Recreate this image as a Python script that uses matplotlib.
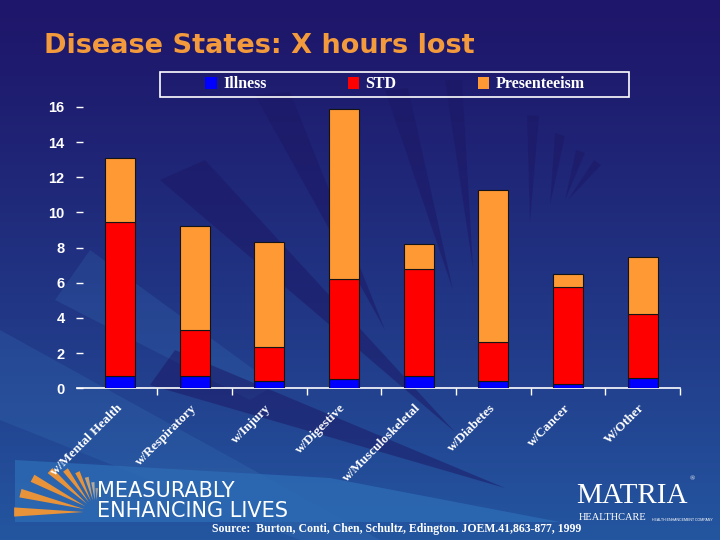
import numpy as np
import matplotlib
matplotlib.use("Agg")
import matplotlib.pyplot as plt
from matplotlib.patches import Polygon, Rectangle

# data (hours lost)
categories = ["w/Mental Health", "w/Respiratory", "w/Injury", "w/Digestive",
              "w/Musculoskeletal", "w/Diabetes", "w/Cancer", "W/Other"]
illness = [0.70, 0.70, 0.42, 0.51, 0.70, 0.42, 0.26, 0.59]
std = [8.75, 2.62, 1.93, 5.69, 6.11, 2.20, 5.52, 3.64]
presenteeism = [3.67, 5.90, 5.99, 9.71, 1.38, 8.68, 0.74, 3.23]
series_names = ["Illness", "STD", "Presenteeism"]
y_ticks = [0, 2, 4, 6, 8, 10, 12, 14, 16]

SERIF = ["Liberation Serif", "DejaVu Serif"]
SANS = ["Liberation Sans", "DejaVu Sans"]

fig = plt.figure(figsize=(7.2, 5.4), dpi=100)

# --- background (gradient + decorative rays), in pixel coordinates ---
bg = fig.add_axes([0, 0, 1, 1])
bg.set_xlim(0, 720)
bg.set_ylim(540, 0)
bg.axis("off")
top = np.array([30, 22, 106]) / 255
bot = np.array([36, 86, 160]) / 255
t = np.linspace(0, 1, 256)[:, None]
grad = top + (bot - top) * t ** 1.2
bg.imshow(grad[:, None, :].repeat(2, axis=1), extent=(0, 720, 540, 0), aspect="auto", zorder=0)

light_rays = [
    [(0, 330), (0, 420), (300, 540), (380, 540)],
    [(90, 250), (55, 300), (250, 400), (275, 385)],
]
for pts in light_rays:
    bg.add_patch(Polygon(pts, closed=True, fc="#3f86c8", ec="none", alpha=0.18, zorder=1))

dark_rays = [
    [(385, 330), (255, 95), (290, 92)],
    [(453, 290), (385, 90), (408, 88)],
    [(473, 268), (445, 80), (462, 80)],
    [(530, 222), (527, 115), (539, 116)],
    [(550, 205), (555, 133), (565, 136)],
    [(565, 200), (576, 150), (585, 153)],
    [(568, 200), (594, 160), (601, 165)],
    [(455, 432), (160, 180), (205, 160)],
    [(505, 488), (150, 385), (175, 350)],
]
for pts in dark_rays:
    bg.add_patch(Polygon(pts, closed=True, fc="#1c1764", ec="none", alpha=0.5, zorder=1))

# band behind the tagline
bg.add_patch(Polygon([(15, 460), (15, 522), (560, 522), (330, 478)], closed=True,
                     fc="#2c6bb4", ec="none", alpha=0.8, zorder=1))

# fan logo
cx, cy = 96, 512
fan = [(180, 82, "#e8933a"), (166, 78, "#e8933a"), (152, 72, "#e8933a"),
       (138, 62, "#e8933a"), (126, 52, "#e8933a"), (115, 44, "#e8933a"),
       (105, 36, "#c8a070"), (96, 30, "#b0a89a"), (88, 24, "#9a9aa0")]
for ang, length, col in fan:
    a = np.deg2rad(ang)
    w = np.deg2rad(3.2)
    p0 = (cx + 12 * np.cos(a), cy - 12 * np.sin(a))
    p1 = (cx + length * np.cos(a - w), cy - length * np.sin(a - w))
    p2 = (cx + length * np.cos(a + w), cy - length * np.sin(a + w))
    bg.add_patch(Polygon([p0, p1, p2], closed=True, fc=col, ec="none", zorder=2))

# legend frame
bg.add_patch(Rectangle((160, 72), 469, 25, fc="none", ec="white", lw=1.2, zorder=3))

# --- chart ---
ax = fig.add_axes([82.6 / 720, 0.281, 597.4 / 720, 0.521])
ax.patch.set_alpha(0)
x = np.arange(len(categories))
w = 0.4
b1 = np.array(illness)
b2 = b1 + np.array(std)
ax.bar(x, illness, w, color="#0000ff", edgecolor="#141414", linewidth=0.8, label=series_names[0], zorder=3)
ax.bar(x, std, w, bottom=b1, color="#ff0000", edgecolor="#141414", linewidth=0.8, label=series_names[1], zorder=3)
ax.bar(x, presenteeism, w, bottom=b2, color="#ff9933", edgecolor="#141414", linewidth=0.8, label=series_names[2], zorder=3)

ax.set_xlim(-0.5, len(categories) - 0.5)
ax.set_ylim(0, 16)
for s in ["top", "right", "left"]:
    ax.spines[s].set_visible(False)
ax.spines["bottom"].set_color("white")
ax.spines["bottom"].set_linewidth(1.2)
ax.spines["bottom"].set_bounds(-0.575, len(categories) - 0.5)

ax.set_yticks(y_ticks)
ax.set_yticklabels([str(v) for v in y_ticks], family=SANS, fontweight="bold", fontsize=10.5, color="white")
ax.tick_params(axis="y", direction="out", length=5, width=1, color="white", pad=8)

ax.set_xticks(x)
ax.set_xticklabels(categories, rotation=45, ha="right", va="center", rotation_mode="anchor",
                   family=SERIF, fontweight="bold", fontsize=9.5, color="white")
ax.tick_params(axis="x", which="major", length=0, pad=13)
ax.set_xticks(list(x[:-1] + 0.5) + [len(categories) - 0.5], minor=True)
ax.tick_params(axis="x", which="minor", direction="out", length=5, width=1, color="white")

leg = fig.legend(loc="center", bbox_to_anchor=(395 / 720, 1 - 84.5 / 540), ncol=3,
                 frameon=False, handlelength=0.7, handleheight=0.7,
                 handletextpad=0.4, columnspacing=5.1,
                 prop={"family": SERIF, "weight": "bold", "size": 11.5})
for txt in leg.get_texts():
    txt.set_color("white")
for h in leg.legend_handles:
    h.set_edgecolor("none")

# --- texts ---
fig.text(44 / 720, 1 - 46 / 540, "Disease States: X hours lost", family=["DejaVu Sans"],
         fontweight="bold", fontsize=19.5, color="#f29a3c", va="center", ha="left")
fig.text(97 / 720, 1 - 491 / 540, "MEASURABLY", family=["DejaVu Sans"], fontsize=15,
         color="white", va="center", ha="left")
fig.text(97 / 720, 1 - 511 / 540, "ENHANCING LIVES", family=["DejaVu Sans"], fontsize=15,
         color="white", va="center", ha="left")
fig.text(397 / 720, 1 - 529 / 540, "Source:  Burton, Conti, Chen, Schultz, Edington. JOEM.41,863-877, 1999",
         family=SERIF, fontweight="bold", fontsize=8.5, color="white", va="center", ha="center")
fig.text(632 / 720, 1 - 496 / 540, "MATRIA", family=SERIF, fontsize=21, color="white",
         va="center", ha="center")
fig.text(690 / 720, 1 - 479 / 540, "®", family=SERIF, fontsize=5, color="white", va="center")
fig.text(613 / 720, 1 - 518 / 540, "HEALTHCARE", family=SERIF, fontsize=7.5, color="white",
         va="center", ha="center")
fig.text(682 / 720, 1 - 520 / 540, "HEALTH ENHANCEMENT COMPANY", family=SANS, fontsize=2.6,
         color="white", va="center", ha="center")

fig.savefig("out.png", dpi=100)
